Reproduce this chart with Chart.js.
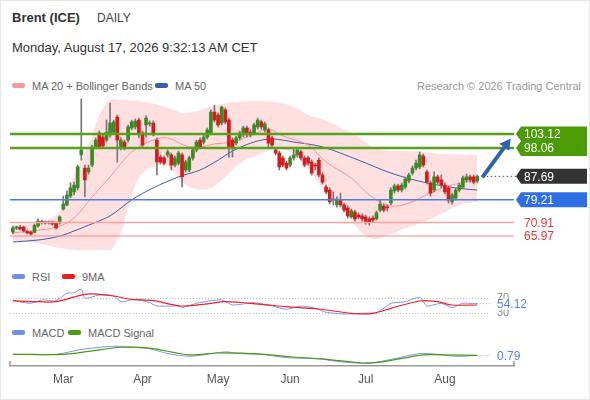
<!DOCTYPE html>
<html>
<head>
<meta charset="utf-8">
<script src="https://cdn.jsdelivr.net/npm/chart.js@4.4.1/dist/chart.umd.min.js"></script>
<style>
  html, body { margin: 0; padding: 0; background: #fff; }
  #wrap { position: relative; width: 590px; height: 400px; box-shadow: inset 0 0 0 1px #e3e6ea;
          font-family: Arial, "Liberation Sans", sans-serif; overflow: hidden; }
  .t { position: absolute; white-space: nowrap; color: #333; }
  .lg { position: absolute; font-size: 11px; color: #666; white-space: nowrap; line-height: 12px; }
  .sw { display: inline-block; width: 13px; height: 5px; border-radius: 2px; margin-right: 7px; vertical-align: 2px; }
  canvas { position: absolute; left: 0; }
</style>
</head>
<body>
<div id="wrap">
  <div class="t" style="left:12px;top:10px;font-size:13px;font-weight:bold;">Brent (ICE)</div>
  <div class="t" style="left:97px;top:11px;font-size:12px;color:#444;">DAILY</div>
  <div class="t" style="left:12px;top:40px;font-size:13px;">Monday, August 17, 2026 9:32:13 AM CET</div>

  <div class="lg" style="left:12px;top:80px;"><span class="sw" style="background:#f59a9a"></span>MA 20 + Bollinger Bands</div>
  <div class="lg" style="left:155px;top:80px;"><span class="sw" style="background:#3d5ea6"></span>MA 50</div>
  <div class="lg" style="right:9px;top:80px;color:#999;">Research © 2026 Trading Central</div>

  <div class="lg" style="left:12px;top:271px;"><span class="sw" style="background:#6f8fe8"></span>RSI</div>
  <div class="lg" style="left:62px;top:271px;"><span class="sw" style="background:#ee1c1c"></span>9MA</div>

  <div class="lg" style="left:12px;top:327px;"><span class="sw" style="background:#6f8fe8"></span>MACD</div>
  <div class="lg" style="left:68px;top:327px;"><span class="sw" style="background:#4a9a14"></span>MACD Signal</div>

  <canvas id="price" width="590" height="160" style="top:90px"></canvas>
  <canvas id="rsi" width="590" height="35" style="top:285px"></canvas>
  <canvas id="macd" width="590" height="60" style="top:340px"></canvas>
</div>

<script>
// ---- data (trading-day index on x) ----
const monthIdx = [14, 36, 57, 77, 98, 120];
const monthNames = ['Mar', 'Apr', 'May', 'Jun', 'Jul', 'Aug'];

const candleOpen = [
  67.4, 68.9, 69.2, 69.2, 67.6, 67.4, 67.3, 69.6, 71.1, 71.1,
  70.7, 71.1, 70.7, 70.7, 75.8, 77.3, 80.5, 82.0, 83.5, 95.5,
  90.7, 89.3, 91.8, 98.4, 103.5, 102.0, 100.9, 102.8, 103.8, 109.3,
  98.0, 100.2, 100.9, 105.3, 105.7, 108.2, 103.5, 106.4, 106.8, 107.1,
  100.9, 94.7, 94.4, 95.5, 95.5, 91.8, 92.5, 95.5, 90.0, 90.0,
  94.4, 97.3, 100.9, 100.2, 102.0, 103.5, 111.1, 110.0, 107.1, 111.9,
  108.2, 100.9, 99.8, 101.7, 102.8, 105.3, 103.8, 103.5, 105.7, 107.5,
  104.6, 104.6, 101.7, 97.3, 96.2, 94.4, 92.5, 91.8, 94.4, 95.5,
  96.6, 94.4, 94.4, 92.9, 91.8, 93.6, 88.2, 83.8, 82.7, 79.4,
  77.3, 79.1, 77.3, 76.2, 72.9, 74.7, 73.6, 73.3, 72.9, 72.2,
  72.5, 72.2, 75.4, 76.9, 76.5, 78.0, 82.4, 84.2, 82.7, 83.8,
  86.0, 88.9, 90.7, 91.1, 95.1, 89.3, 85.3, 82.7, 87.5, 86.4,
  84.5, 83.5, 78.4, 79.8, 82.7, 83.8, 86.4, 87.5, 87.5, 86.0
];
const candleClose = [
  68.9, 69.1, 68.5, 67.8, 67.1, 66.7, 69.8, 71.4, 70.9, 70.7,
  70.9, 70.3, 68.9, 72.9, 77.6, 80.9, 83.5, 84.5, 91.1, 97.3,
  86.4, 90.7, 98.4, 100.9, 98.4, 98.8, 103.8, 107.1, 107.5, 100.9,
  100.9, 98.0, 105.7, 107.5, 107.8, 103.5, 99.1, 108.9, 107.1, 102.8,
  92.9, 92.9, 92.5, 96.6, 91.8, 94.4, 96.2, 87.5, 92.9, 94.4,
  97.3, 100.2, 98.4, 102.0, 104.6, 111.1, 108.2, 106.4, 112.9, 107.5,
  98.4, 98.4, 101.7, 103.5, 105.3, 102.8, 102.8, 106.4, 108.2, 105.7,
  106.8, 99.8, 99.1, 96.2, 91.1, 91.8, 90.7, 94.4, 95.5, 97.3,
  94.4, 91.8, 92.5, 88.9, 91.5, 88.2, 85.6, 82.0, 78.4, 79.1,
  79.4, 77.3, 75.4, 73.3, 75.1, 72.2, 72.9, 72.2, 71.1, 71.1,
  71.8, 74.4, 77.6, 75.4, 76.2, 82.7, 84.2, 82.7, 84.5, 86.7,
  88.2, 90.7, 92.5, 95.5, 91.8, 85.6, 81.6, 87.5, 85.6, 84.5,
  82.0, 79.1, 80.9, 82.7, 84.5, 87.1, 87.5, 86.4, 85.6, 87.69
];
const candleHigh = [
  69.6, 69.6, 69.9, 69.6, 68.2, 67.8, 70.3, 72.2, 71.8, 71.4,
  71.4, 71.4, 71.1, 73.3, 80.5, 82.4, 85.3, 85.6, 91.8, 115.9,
  91.8, 91.8, 99.1, 101.7, 104.2, 103.1, 108.2, 114.4, 108.2, 110.0,
  101.7, 100.9, 106.4, 108.2, 108.6, 108.9, 104.2, 109.7, 107.9, 107.9,
  101.7, 95.5, 95.1, 97.3, 96.2, 95.1, 96.9, 96.2, 93.6, 95.1,
  98.0, 100.9, 101.7, 102.8, 105.3, 111.9, 113.6, 110.8, 113.3, 112.6,
  108.9, 101.7, 102.4, 104.2, 106.0, 106.0, 104.6, 107.1, 108.9, 108.2,
  107.5, 105.3, 102.4, 98.0, 96.9, 95.1, 93.3, 95.1, 98.0, 98.0,
  97.3, 95.1, 95.1, 93.6, 92.5, 94.4, 88.9, 84.5, 83.5, 82.0,
  80.2, 81.6, 78.0, 76.9, 75.8, 75.4, 74.4, 74.0, 73.6, 72.9,
  73.3, 75.1, 79.1, 77.6, 77.3, 83.5, 84.9, 84.9, 85.3, 87.5,
  88.9, 91.5, 93.6, 96.6, 95.8, 90.0, 86.0, 89.3, 88.2, 88.2,
  85.3, 84.2, 81.6, 83.5, 85.3, 87.8, 88.5, 88.2, 88.2, 88.2
];
const candleLow = [
  66.7, 68.3, 68.2, 67.4, 66.7, 66.3, 67.1, 69.2, 70.3, 70.3,
  70.3, 69.9, 68.5, 70.3, 75.4, 76.9, 79.8, 80.9, 82.7, 93.6,
  80.2, 88.5, 91.1, 97.7, 97.7, 98.0, 100.2, 102.0, 103.1, 92.9,
  97.3, 97.3, 100.2, 104.6, 104.9, 101.7, 98.4, 102.0, 106.0, 102.4,
  88.2, 92.2, 91.8, 94.7, 90.0, 91.1, 91.8, 83.8, 89.3, 89.3,
  93.6, 96.6, 97.7, 99.5, 101.3, 102.8, 107.5, 105.7, 106.4, 106.8,
  94.7, 94.7, 99.1, 100.9, 102.0, 102.0, 102.0, 102.8, 104.9, 104.9,
  103.8, 98.4, 98.4, 95.5, 90.0, 91.1, 90.0, 91.1, 93.6, 94.7,
  93.6, 91.1, 91.8, 88.2, 90.0, 87.5, 84.9, 81.3, 77.6, 77.3,
  76.5, 76.5, 74.7, 72.5, 72.5, 71.4, 72.2, 71.4, 70.3, 69.9,
  71.1, 71.8, 74.7, 74.7, 75.1, 77.3, 81.6, 82.0, 82.0, 83.1,
  85.3, 88.2, 90.0, 90.4, 91.1, 84.9, 80.5, 82.0, 84.9, 83.5,
  81.3, 78.0, 77.6, 79.1, 82.0, 83.1, 85.6, 85.6, 84.9, 85.3
];

const ma20Idx = [0, 8, 13, 17, 22, 27, 33, 39, 43, 48, 52, 56, 61, 67, 71, 75, 82, 87, 94, 99, 105, 110, 116, 121, 129];
const ma20Val = [67.1, 68.2, 69.6, 72.5, 80.2, 87.5, 96.6, 100.9, 101.7, 98.8, 98.4, 99.5, 100.2, 103.1, 104.9, 102.4, 99.1, 92.9, 87.1, 80.9, 76.9, 78.0, 81.6, 84.2, 86.4];

const ma50Idx = [0, 7, 13, 17, 21, 27, 33, 39, 46, 52, 57, 61, 67, 72, 78, 86, 96, 105, 114, 123, 129];
const ma50Val = [63.8, 64.5, 65.9, 67.8, 69.9, 73.3, 79.1, 83.5, 87.5, 90.0, 93.6, 96.9, 100.2, 101.3, 100.2, 98.4, 93.6, 88.9, 85.6, 83.5, 82.7];

const bbIdx = [0, 8, 13, 17, 21, 24, 27, 30, 32, 35, 39, 43, 48, 54, 59, 63, 68, 74, 78, 82, 86, 91, 95, 99, 103, 108, 114, 119, 124, 129];
const bbUpper = [69.9, 71.1, 75.0, 88.2, 99.1, 110.0, 115.5, 115.5, 115.5, 115.0, 114.2, 112.6, 110.8, 112.6, 114.4, 114.8, 115.1, 114.5, 113.0, 110.0, 108.5, 105.5, 102.8, 99.1, 97.3, 97.0, 96.6, 95.8, 95.6, 95.5];
const bbLower = [64.5, 63.1, 61.6, 61.0, 60.5, 60.4, 60.5, 67.3, 76.0, 87.1, 91.3, 91.5, 84.5, 83.0, 87.5, 92.5, 95.5, 97.8, 95.5, 90.7, 83.5, 77.3, 69.9, 65.2, 65.6, 68.2, 71.1, 74.0, 77.3, 78.4];

const resistLevels = [103.12, 98.06];
const pivotLevel = 79.21;
const supportLevels = [70.91, 65.97];
const lastPrice = 87.69;

const rsiIdx = [0, 5, 8, 12, 15, 17, 19, 20, 24, 28, 30, 34, 38, 40, 46, 47, 51, 55, 58, 61, 67, 72, 76, 80, 84, 87, 92, 97, 101, 103, 105, 109, 113, 115, 119, 122, 125, 129];
const rsiVal = [62.0, 55.1, 63.9, 62.0, 81.7, 83.3, 92.4, 68.4, 77.2, 74.5, 59.3, 65.7, 56.7, 47.9, 47.9, 43.3, 55.1, 62.0, 63.9, 50.5, 56.7, 47.9, 39.1, 47.9, 41.7, 31.1, 26.5, 28.4, 30.0, 41.7, 55.1, 59.3, 71.1, 47.9, 55.1, 43.3, 55.1, 54.12];
const rsiMaIdx = [0, 7, 12, 20, 24, 28, 33, 39, 47, 55, 59, 69, 76, 85, 94, 100, 105, 113, 118, 122, 129];
const rsiMaVal = [62.0, 59.3, 59.3, 79.1, 79.1, 74.5, 65.7, 62.0, 47.9, 55.1, 59.3, 52.4, 46.0, 39.9, 28.4, 28.4, 41.7, 61.2, 59.3, 50.5, 50.5];
const rsiLevels = [70, 30];
const rsiLast = 54.12;

const macdIdx = [0, 12, 19, 28, 33, 38, 43, 49, 53, 59, 63, 69, 76, 85, 92, 99, 105, 113, 118, 123, 129];
const macdVal = [1.7, 1.7, 5.7, 8.3, 7.5, 6.3, 2.3, 0.1, 1.3, 3.7, 2.3, 1.7, -1.0, -2.1, -4.7, -5.4, -2.5, 2.3, 1.7, 0.1, 0.79];
const signalIdx = [0, 14, 22, 30, 38, 49, 57, 69, 77, 86, 97, 102, 114, 119, 129];
const signalVal = [1.7, 1.7, 4.6, 7.5, 6.8, 1.3, 2.8, 1.9, -0.3, -2.1, -5.4, -4.7, 1.3, 1.3, 0.79];
const macdLast = 0.79;

const X_MIN = -0.8, X_MAX = 139.2;
const PAD = { left: 10, right: 76, top: 0, bottom: 0 };
const FONT = 'Arial, "Liberation Sans", sans-serif';

function pts(idx, vals) {
  return idx.map((x, i) => ({ x: x, y: vals[i] }));
}

function flatLine(v) {
  return [{ x: X_MIN, y: v }, { x: X_MAX, y: v }];
}

function lineDs(data, color, width, extra) {
  return Object.assign({
    type: 'line', data: data, borderColor: color, borderWidth: width,
    pointRadius: 0, tension: 0.35, fill: false
  }, extra || {});
}

const hiddenX = { type: 'linear', min: X_MIN, max: X_MAX, offset: false, display: false };

/* ================= PRICE PANEL ================= */
function tagPath(ctx, x0, x1, top, bot, tips) {
  ctx.beginPath();
  ctx.moveTo(x0 + 5, top);
  ctx.lineTo(x1, top);
  ctx.lineTo(x1, bot);
  ctx.lineTo(x0 + 5, bot);
  for (let i = tips.length - 1; i >= 0; i--) {
    ctx.lineTo(x0, tips[i]);
    if (i > 0) ctx.lineTo(x0 + 5, (tips[i] + tips[i - 1]) / 2);
  }
  ctx.closePath();
}

const priceDecor = {
  id: 'priceDecor',
  afterDatasetsDraw(chart) {
    const { ctx, scales: { x, y } } = chart;
    const yp = v => y.getPixelForValue(v);
    const x0 = 516, x1 = 587;
    ctx.save();

    // dotted line from last candle to its label
    ctx.strokeStyle = '#555';
    ctx.lineWidth = 1;
    ctx.setLineDash([1.5, 2.5]);
    ctx.beginPath();
    ctx.moveTo(x.getPixelForValue(130.5), yp(lastPrice));
    ctx.lineTo(x0, yp(lastPrice));
    ctx.stroke();
    ctx.setLineDash([]);

    // forecast arrow
    const ax0 = x.getPixelForValue(130.4), ay0 = yp(87.3);
    const ax1 = x.getPixelForValue(138.3), ay1 = yp(101.5);
    const ang = Math.atan2(ay1 - ay0, ax1 - ax0);
    ctx.strokeStyle = '#2f63ad';
    ctx.fillStyle = '#2f63ad';
    ctx.lineWidth = 4;
    ctx.beginPath();
    ctx.moveTo(ax0, ay0);
    ctx.lineTo(ax1 - 7 * Math.cos(ang), ay1 - 7 * Math.sin(ang));
    ctx.stroke();
    ctx.beginPath();
    ctx.moveTo(ax1, ay1);
    ctx.lineTo(ax1 - 11 * Math.cos(ang) + 6 * Math.sin(ang), ay1 - 11 * Math.sin(ang) - 6 * Math.cos(ang));
    ctx.lineTo(ax1 - 11 * Math.cos(ang) - 6 * Math.sin(ang), ay1 - 11 * Math.sin(ang) + 6 * Math.cos(ang));
    ctx.closePath();
    ctx.fill();

    ctx.font = '12px ' + FONT;
    ctx.textBaseline = 'middle';

    // resistance tag
    const r0 = yp(resistLevels[0]), r1 = yp(resistLevels[1]);
    ctx.fillStyle = '#4b9b05';
    tagPath(ctx, x0, x1, r0 - 7.5, r1 + 8, [r0, r1]);
    ctx.fill();
    ctx.fillStyle = '#fff';
    ctx.fillText(resistLevels[0].toFixed(2), 524, r0 + 1);
    ctx.fillText(resistLevels[1].toFixed(2), 524, r1 + 1);

    // last price tag
    const lp = yp(lastPrice);
    ctx.fillStyle = '#333';
    tagPath(ctx, x0, x1, lp - 7.5, lp + 7.5, [lp]);
    ctx.fill();
    ctx.fillStyle = '#fff';
    ctx.fillText(lastPrice.toFixed(2), 524, lp + 1);

    // pivot tag
    const pv = yp(pivotLevel);
    ctx.fillStyle = '#2e6fe6';
    tagPath(ctx, x0, x1, pv - 7.5, pv + 7.5, [pv]);
    ctx.fill();
    ctx.fillStyle = '#fff';
    ctx.fillText(pivotLevel.toFixed(2), 524, pv + 1);

    // supports
    ctx.fillStyle = '#e8363a';
    supportLevels.forEach(v => ctx.fillText(v.toFixed(2), 524, yp(v) + 1));
    ctx.restore();
  }
};

const candleColors = candleOpen.map((o, i) => candleClose[i] >= o ? '#3b8a22' : '#d91a1a');

new Chart(document.getElementById('price'), {
  type: 'bar',
  data: {
    datasets: [
      lineDs(pts(bbIdx, bbUpper), 'rgba(0,0,0,0)', 0, { fill: '+1', backgroundColor: 'rgba(255,214,214,0.75)', order: 10 }),
      lineDs(pts(bbIdx, bbLower), 'rgba(0,0,0,0)', 0, { order: 10 }),
      lineDs(pts(ma20Idx, ma20Val), '#f39595', 1, { order: 8 }),
      lineDs(pts(ma50Idx, ma50Val), '#3d5ea6', 1, { order: 8 }),
      {
        type: 'bar', order: 3, grouped: false, barThickness: 1,
        data: candleHigh.map((h, i) => ({ x: i, y: [candleLow[i], h] })),
        backgroundColor: '#777'
      },
      {
        type: 'bar', order: 2, grouped: false, barThickness: 3, minBarLength: 1,
        data: candleOpen.map((o, i) => ({ x: i, y: [o, candleClose[i]] })),
        backgroundColor: candleColors
      },
      lineDs(flatLine(resistLevels[0]), '#56a21c', 2.5, { order: 0, tension: 0 }),
      lineDs(flatLine(resistLevels[1]), '#56a21c', 2.5, { order: 0, tension: 0 }),
      lineDs(flatLine(pivotLevel), '#4a7fe2', 1.5, { order: 0, tension: 0 }),
      lineDs(flatLine(supportLevels[0]), '#f6a5a5', 1.5, { order: 0, tension: 0 }),
      lineDs(flatLine(supportLevels[1]), '#f48a8a', 1, { order: 0, tension: 0 })
    ]
  },
  options: {
    responsive: false,
    animation: false,
    layout: { padding: PAD },
    plugins: { legend: { display: false }, tooltip: { enabled: false } },
    scales: {
      x: hiddenX,
      y: { type: 'linear', min: 60.87, max: 119.14, display: false }
    }
  },
  plugins: [priceDecor]
});

/* ================= RSI PANEL ================= */
const rsiDecor = {
  id: 'rsiDecor',
  beforeDatasetsDraw(chart) {
    const { ctx, chartArea, scales: { y } } = chart;
    ctx.save();
    ctx.strokeStyle = '#bbb';
    ctx.lineWidth = 1;
    ctx.setLineDash([1, 2]);
    rsiLevels.forEach(v => {
      const py = Math.round(y.getPixelForValue(v)) + 0.5;
      ctx.beginPath();
      ctx.moveTo(chartArea.left, py);
      ctx.lineTo(490, py);
      ctx.stroke();
    });
    ctx.restore();
  },
  afterDatasetsDraw(chart) {
    const { ctx, scales: { x, y } } = chart;
    ctx.save();
    const py = y.getPixelForValue(rsiLast);
    ctx.strokeStyle = '#9aa8d8';
    ctx.setLineDash([1, 2]);
    ctx.beginPath();
    ctx.moveTo(x.getPixelForValue(129), py);
    ctx.lineTo(490, py);
    ctx.stroke();
    ctx.setLineDash([]);
    ctx.font = '11px ' + FONT;
    ctx.textBaseline = 'middle';
    ctx.fillStyle = '#888';
    rsiLevels.forEach(v => ctx.fillText(String(v), 497, y.getPixelForValue(v)));
    ctx.fillStyle = '#fff';
    ctx.fillRect(496, py - 5, 34, 11);
    ctx.font = '12px ' + FONT;
    ctx.fillStyle = '#5b7fe3';
    ctx.fillText(rsiLast.toFixed(2), 497, py + 1);
    ctx.restore();
  }
};

new Chart(document.getElementById('rsi'), {
  type: 'line',
  data: {
    datasets: [
      lineDs(pts(rsiMaIdx, rsiMaVal), '#ee2226', 1.2, { tension: 0.3 }),
      lineDs(pts(rsiIdx, rsiVal), '#7b97ea', 1, { tension: 0.2 })
    ]
  },
  options: {
    responsive: false,
    animation: false,
    layout: { padding: PAD },
    plugins: { legend: { display: false }, tooltip: { enabled: false } },
    scales: {
      x: hiddenX,
      y: { type: 'linear', min: 10.5, max: 103.9, display: false }
    }
  },
  plugins: [rsiDecor]
});

/* ================= MACD PANEL ================= */
const macdDecor = {
  id: 'macdDecor',
  afterDatasetsDraw(chart) {
    const { ctx, chartArea, scales: { x, y } } = chart;
    ctx.save();
    const py = y.getPixelForValue(macdLast);
    ctx.strokeStyle = '#9aa8d8';
    ctx.setLineDash([1, 2]);
    ctx.beginPath();
    ctx.moveTo(x.getPixelForValue(129), py);
    ctx.lineTo(490, py);
    ctx.stroke();
    ctx.setLineDash([]);
    ctx.font = '12px ' + FONT;
    ctx.textBaseline = 'middle';
    ctx.fillStyle = '#5b7fe3';
    ctx.fillText(macdLast.toFixed(2), 497, py + 1);
    // end ticks of the time axis
    ctx.strokeStyle = '#999';
    ctx.lineWidth = 1.5;
    [chartArea.left, chartArea.right].forEach(px => {
      ctx.beginPath();
      ctx.moveTo(px, chartArea.bottom - 5);
      ctx.lineTo(px, chartArea.bottom);
      ctx.stroke();
    });
    ctx.restore();
  }
};

new Chart(document.getElementById('macd'), {
  type: 'line',
  data: {
    datasets: [
      lineDs(pts(signalIdx, signalVal), '#4a9a14', 1.2, { tension: 0.3 }),
      lineDs(pts(macdIdx, macdVal), '#7b97ea', 1, { tension: 0.3 })
    ]
  },
  options: {
    responsive: false,
    animation: false,
    layout: { padding: { left: 10, right: 76, top: 0, bottom: 8 } },
    plugins: { legend: { display: false }, tooltip: { enabled: false } },
    scales: {
      x: {
        type: 'linear', min: X_MIN, max: X_MAX, offset: false,
        grid: { display: false, drawTicks: false },
        border: { display: true, color: '#999', width: 1.5 },
        afterBuildTicks: axis => { axis.ticks = monthIdx.map(v => ({ value: v })); },
        ticks: {
          autoSkip: false, maxRotation: 0, padding: 6, color: '#555',
          font: { size: 12, family: FONT },
          callback: v => monthNames[monthIdx.indexOf(v)]
        }
      },
      y: { type: 'linear', min: -7.88, max: 13.46, display: false }
    }
  },
  plugins: [macdDecor]
});
</script>
</body>
</html>
